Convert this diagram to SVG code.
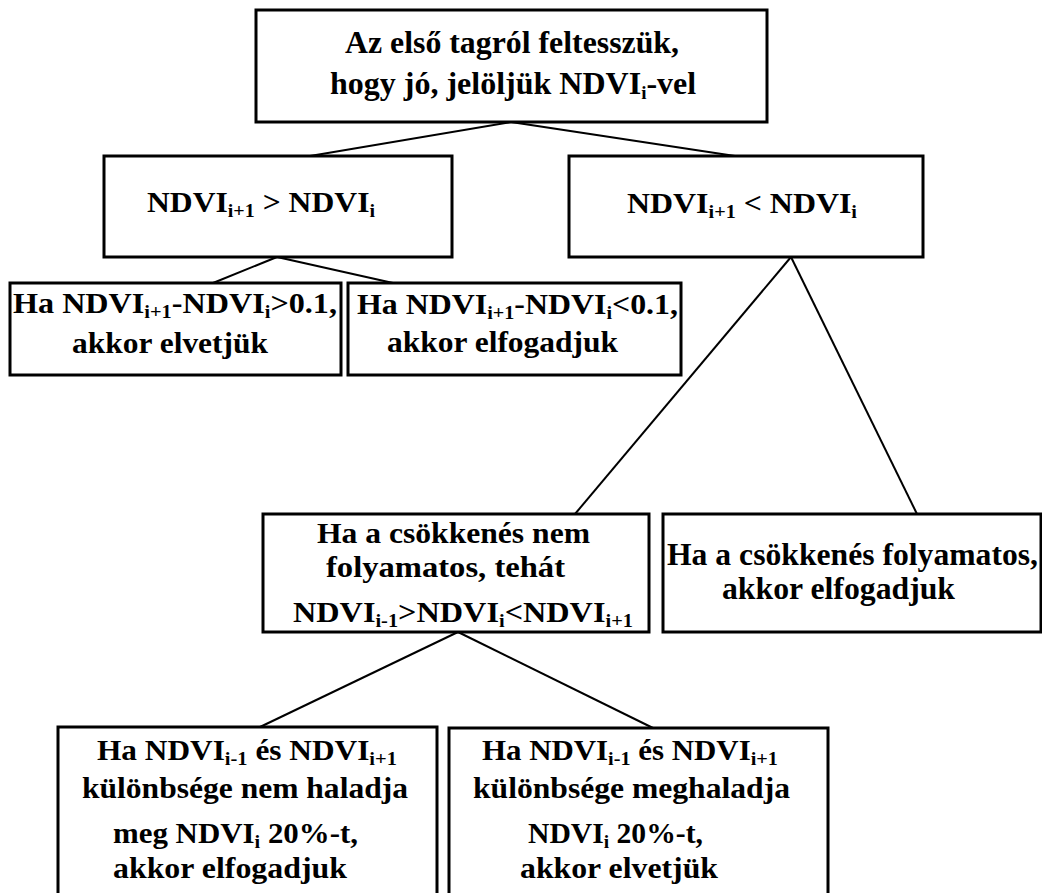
<svg xmlns="http://www.w3.org/2000/svg" width="1042" height="893" viewBox="0 0 1042 893">
<style>
.box{fill:#fff;stroke:#000;stroke-width:3}
.ln{stroke:#000;stroke-width:2;fill:none}
text{font-family:"Liberation Serif","Times New Roman",serif;font-weight:bold;fill:#000}
.t32{font-size:32px}
.t30{font-size:30px}
.t29{font-size:29px}
.t31{font-size:31px}
.sub{font-size:19px}
</style>
<rect width="1042" height="893" fill="#fff"/>
<g id="connectors">
<line class="ln" x1="511" y1="122" x2="310" y2="156"/>
<line class="ln" x1="511" y1="122" x2="735" y2="156"/>
<line class="ln" x1="277" y1="257" x2="213" y2="283"/>
<line class="ln" x1="277" y1="257" x2="393" y2="283"/>
<line class="ln" x1="791" y1="257" x2="575" y2="514"/>
<line class="ln" x1="791" y1="257" x2="917" y2="514"/>
<line class="ln" x1="458" y1="632" x2="260" y2="727"/>
<line class="ln" x1="458" y1="632" x2="653" y2="728"/>
</g>
<g id="n-top">
<rect class="box" x="256" y="10" width="511" height="112"/>
<text class="t32" x="345" y="53" textLength="334" lengthAdjust="spacingAndGlyphs">Az első tagról feltesszük,</text>
<text class="t32" x="330" y="94">hogy jó, jelöljük NDVI<tspan class="sub" dy="5">i</tspan><tspan dy="-5">-vel</tspan></text>
</g>
<g id="n-gt">
<rect class="box" x="104" y="156" width="348" height="101"/>
<text class="t30" x="147" y="212" textLength="228" lengthAdjust="spacingAndGlyphs">NDVI<tspan class="sub" dy="5">i+1</tspan><tspan dy="-5"> &gt; NDVI</tspan><tspan class="sub" dy="5">i</tspan></text>
</g>
<g id="n-lt">
<rect class="box" x="569" y="156" width="354" height="101"/>
<text class="t30" x="627" y="213" textLength="230" lengthAdjust="spacingAndGlyphs">NDVI<tspan class="sub" dy="5">i+1</tspan><tspan dy="-5"> &lt; NDVI</tspan><tspan class="sub" dy="5">i</tspan></text>
</g>
<g id="n-reject1">
<rect class="box" x="10" y="283" width="331" height="92"/>
<text class="t30" x="13" y="313" textLength="324" lengthAdjust="spacingAndGlyphs">Ha NDVI<tspan class="sub" dy="5">i+1</tspan><tspan dy="-5">-NDVI</tspan><tspan class="sub" dy="5">i</tspan><tspan dy="-5">&gt;0.1,</tspan></text>
<text class="t30" x="72" y="353" textLength="196" lengthAdjust="spacingAndGlyphs">akkor elvetjük</text>
</g>
<g id="n-accept1">
<rect class="box" x="348" y="283" width="333" height="92"/>
<text class="t30" x="357" y="314" textLength="321" lengthAdjust="spacingAndGlyphs">Ha NDVI<tspan class="sub" dy="5">i+1</tspan><tspan dy="-5">-NDVI</tspan><tspan class="sub" dy="5">i</tspan><tspan dy="-5">&lt;0.1,</tspan></text>
<text class="t30" x="387" y="352" textLength="231" lengthAdjust="spacingAndGlyphs">akkor elfogadjuk</text>
</g>
<g id="n-nem">
<rect class="box" x="263" y="514" width="386" height="118"/>
<text class="t30" x="317" y="543" textLength="273" lengthAdjust="spacingAndGlyphs">Ha a csökkenés nem</text>
<text class="t30" x="326" y="577" textLength="239" lengthAdjust="spacingAndGlyphs">folyamatos, tehát</text>
<text class="t30" x="293" y="622" textLength="340" lengthAdjust="spacingAndGlyphs">NDVI<tspan class="sub" dy="5">i-1</tspan><tspan dy="-5">&gt;NDVI</tspan><tspan class="sub" dy="5">i</tspan><tspan dy="-5">&lt;NDVI</tspan><tspan class="sub" dy="5">i+1</tspan></text>
</g>
<g id="n-fol">
<rect class="box" x="663" y="514" width="378" height="118"/>
<text class="t31" x="667" y="565" textLength="371" lengthAdjust="spacingAndGlyphs">Ha a csökkenés folyamatos,</text>
<text class="t31" x="722" y="599" textLength="233" lengthAdjust="spacingAndGlyphs">akkor elfogadjuk</text>
</g>
<g id="n-accept2">
<rect class="box" x="58" y="727" width="379" height="180"/>
<text class="t29" x="97" y="760" textLength="300" lengthAdjust="spacingAndGlyphs">Ha NDVI<tspan class="sub" dy="5">i-1</tspan><tspan dy="-5"> és NDVI</tspan><tspan class="sub" dy="5">i+1</tspan></text>
<text class="t29" x="82" y="798" textLength="326" lengthAdjust="spacingAndGlyphs">különbsége nem haladja</text>
<text class="t29" x="113" y="843" textLength="245" lengthAdjust="spacingAndGlyphs">meg NDVI<tspan class="sub" dy="5">i</tspan><tspan dy="-5"> 20%-t,</tspan></text>
<text class="t29" x="113" y="878" textLength="234" lengthAdjust="spacingAndGlyphs">akkor elfogadjuk</text>
</g>
<g id="n-reject2">
<rect class="box" x="449" y="728" width="379" height="180"/>
<text class="t29" x="482" y="760" textLength="296" lengthAdjust="spacingAndGlyphs">Ha NDVI<tspan class="sub" dy="5">i-1</tspan><tspan dy="-5"> és NDVI</tspan><tspan class="sub" dy="5">i+1</tspan></text>
<text class="t29" x="473" y="798" textLength="317" lengthAdjust="spacingAndGlyphs">különbsége meghaladja</text>
<text class="t29" x="528" y="843" textLength="175" lengthAdjust="spacingAndGlyphs">NDVI<tspan class="sub" dy="5">i</tspan><tspan dy="-5"> 20%-t,</tspan></text>
<text class="t29" x="520" y="878" textLength="198" lengthAdjust="spacingAndGlyphs">akkor elvetjük</text>
</g>
</svg>
